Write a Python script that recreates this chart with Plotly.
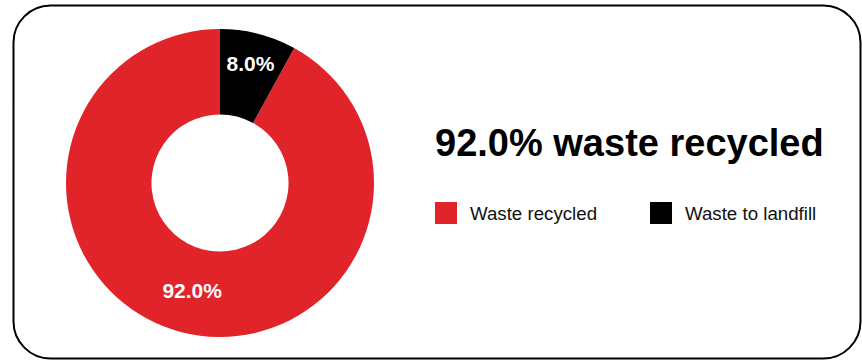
import plotly.graph_objects as go

# ---- data ----
labels = ["Waste recycled", "Waste to landfill"]
values = [92.0, 8.0]
colors = ["#E1242A", "#000000"]
title_text = f"{values[0]:.1f}% waste recycled"

W, H = 862, 360

def px(x):
    return x / W

def py(y):
    return 1 - y / H

# start the small slice at 12 o'clock, going clockwise
rotation = values[1] / sum(values) * 360

fig = go.Figure()

fig.add_trace(go.Pie(
    labels=labels,
    values=values,
    hole=0.445,
    sort=False,
    direction="clockwise",
    rotation=rotation,
    marker=dict(colors=colors, line=dict(width=0)),
    texttemplate="%{value:.1f}%",
    textposition="inside",
    insidetextorientation="horizontal",
    textfont=dict(family="Liberation Sans", size=21, color="white", weight="bold"),
    showlegend=False,
    domain=dict(x=[px(66), px(374)], y=[py(337), py(29)]),
    hoverinfo="label+percent",
))

# rounded border
x0, y0, x1, y1, r = 13.5, 5.5, 860.5, 358.5, 37
k = 0.55
pts = [
    f"M{px(x0 + r)},{py(y0)}",
    f"L{px(x1 - r)},{py(y0)}",
    f"C{px(x1 - r + r * k)},{py(y0)} {px(x1)},{py(y0 + r - r * k)} {px(x1)},{py(y0 + r)}",
    f"L{px(x1)},{py(y1 - r)}",
    f"C{px(x1)},{py(y1 - r + r * k)} {px(x1 - r + r * k)},{py(y1)} {px(x1 - r)},{py(y1)}",
    f"L{px(x0 + r)},{py(y1)}",
    f"C{px(x0 + r - r * k)},{py(y1)} {px(x0)},{py(y1 - r + r * k)} {px(x0)},{py(y1 - r)}",
    f"L{px(x0)},{py(y0 + r)}",
    f"C{px(x0)},{py(y0 + r - r * k)} {px(x0 + r - r * k)},{py(y0)} {px(x0 + r)},{py(y0)}",
    "Z",
]
shapes = [dict(type="path", xref="paper", yref="paper", path=" ".join(pts),
               line=dict(color="black", width=2), fillcolor="rgba(0,0,0,0)", layer="below")]

annotations = [dict(
    x=px(433), y=py(143), xref="paper", yref="paper", xanchor="left", yanchor="middle",
    text=title_text, showarrow=False,
    font=dict(family="Liberation Sans", size=38, color="black", weight="bold"),
)]

# custom legend
legend_x = [435, 650]
for lx, lab, col in zip(legend_x, labels, colors):
    shapes.append(dict(type="rect", xref="paper", yref="paper",
                       x0=px(lx), x1=px(lx + 22), y0=py(224), y1=py(202),
                       fillcolor=col, line=dict(width=0)))
    annotations.append(dict(
        x=px(lx + 33), y=py(213), xref="paper", yref="paper", xanchor="left", yanchor="middle",
        text=lab, showarrow=False,
        font=dict(family="Liberation Sans", size=18.7, color="#111111"),
    ))

fig.update_layout(
    width=W, height=H,
    margin=dict(l=0, r=0, t=0, b=0),
    paper_bgcolor="white",
    plot_bgcolor="white",
    shapes=shapes,
    annotations=annotations,
)

fig.write_html("out.html",
               config={"displayModeBar": False},
               post_script="document.body.style.margin='0';document.body.style.padding='0';")
